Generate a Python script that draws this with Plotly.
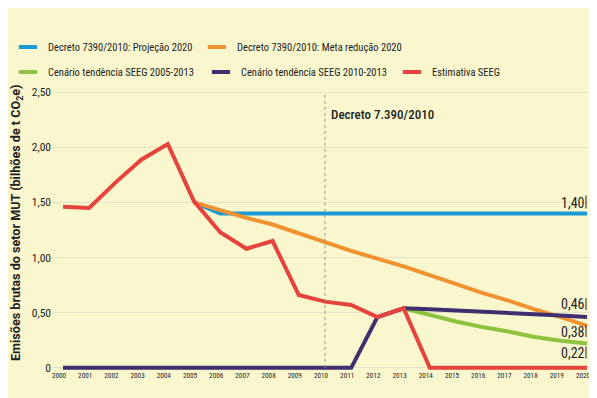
import plotly.graph_objects as go

years = list(range(2000, 2021))

proj_years = list(range(2005, 2021))
proj_2020 = [1.50] + [1.40] * 15

meta_years = list(range(2005, 2021))
meta_2020 = [1.50, 1.43, 1.36, 1.30, 1.22, 1.14, 1.06, 0.99, 0.92, 0.84,
             0.76, 0.68, 0.61, 0.53, 0.46, 0.38]

tend0513_years = list(range(2013, 2021))
tend_0513 = [0.54, 0.48, 0.42, 0.37, 0.33, 0.28, 0.245, 0.22]

tend1013_years = list(range(2000, 2021))
tend_1013 = [0] * 12 + [0.46, 0.54, 0.53, 0.52, 0.51, 0.50, 0.49, 0.475, 0.46]

seeg_years = list(range(2000, 2021))
seeg = [1.46, 1.45, 1.68, 1.89, 2.03, 1.51, 1.23, 1.08, 1.15, 0.66, 0.60,
        0.57, 0.46, 0.54, 0, 0, 0, 0, 0, 0, 0]

names = ["Decreto 7390/2010: Projeção 2020", "Decreto 7390/2010: Meta redução 2020",
         "Cenário tendência SEEG 2005-2013", "Cenário tendência SEEG 2010-2013",
         "Estimativa SEEG"]
colors = ["#1B9AD6", "#F0922F", "#8CC43F", "#3E2F6E", "#E5433B"]

y_ticks = [0, 0.5, 1.0, 1.5, 2.0, 2.5]
y_ticktext = ["0", "0,50", "1,00", "1,50", "2,00", "2,50"]

y_title = "<b>Emisões brutas do setor MUT (bilhões de t CO<sub>2</sub>e)</b>"

decree_year = 2010
decree_label = "Decreto 7.390/2010"

end_values = [1.40, 0.46, 0.38, 0.22]

COND = "Roboto Condensed, Liberation Sans Narrow, sans-serif"
TXT = "#222222"
BG = "#FAF7CF"

# the page body adds an 8px offset; size the figure so it fills the window
OFF = 8
W, H = 597 - OFF, 398 - OFF

series = [
    (proj_years, proj_2020),
    (meta_years, meta_2020),
    (tend0513_years, tend_0513),
    (tend1013_years, tend_1013),
    (seeg_years, seeg),
]

fig = go.Figure()
for (xs, ys), name, c in zip(series, names, colors):
    fig.add_trace(go.Scatter(x=xs, y=ys, mode="lines", name=name,
                             line=dict(color=c, width=4), showlegend=False))

# legend layout: (left px of text, row center px) in window pixels
legend_pos = [(31, 46), (225, 46), (31, 71), (229, 71), (420, 71)]
legend_layout = {}
for i, (name, c) in enumerate(zip(names, colors)):
    key = "legend" if i == 0 else f"legend{i + 1}"
    fig.add_trace(go.Scatter(
        x=[None], y=[None], mode="markers", name=name, showlegend=True,
        marker=dict(symbol="line-ew-open", size=13, color=c,
                    line=dict(width=4, color=c)),
        legend=key))
    tx, ty = legend_pos[i]
    legend_layout[key] = dict(
        orientation="h", xref="container", yref="container",
        x=(tx - OFF - 28) / W, y=1 - (ty - OFF + 1) / H, xanchor="left", yanchor="middle",
        itemwidth=30, font=dict(family=COND, size=10.5, color=TXT),
        bgcolor="rgba(0,0,0,0)")

# y axis title (as rotated annotation for exact placement)
fig.add_annotation(text=y_title, textangle=-90, xref="paper", yref="paper",
                   x=0, y=0.5, xanchor="center", yanchor="middle",
                   xshift=-36, yshift=7, showarrow=False,
                   font=dict(family="Roboto, sans-serif", size=12.6, color=TXT))

# vertical decree line
fig.add_shape(type="line", x0=decree_year, x1=decree_year, y0=0, y1=2.5,
              xref="x", yref="y", line=dict(color="#8f8f86", width=1, dash="dot"))
fig.add_annotation(x=decree_year, y=2.30, text=decree_label, showarrow=False,
                   xanchor="left", xshift=4,
                   font=dict(family=COND, size=13, color=TXT, weight=500))

# end value labels
end_style = [dict(ys=10, b0=5, b1=18), dict(ys=13, b0=7, b1=19),
             dict(ys=-6, b0=-11, b1=1), dict(ys=-9, b0=-15, b1=-3)]
for v, st in zip(end_values, end_style):
    fig.add_annotation(x=years[-1], y=v, text=f"{v:.2f}".replace(".", ","),
                       showarrow=False, xanchor="right", yanchor="middle",
                       xshift=0, yshift=st["ys"],
                       font=dict(family=COND, size=14, color=TXT))
    fig.add_shape(type="line", xref="x", yref="y", xsizemode="pixel", ysizemode="pixel",
                  xanchor=years[-1], yanchor=v, x0=-1, x1=-1, y0=st["b0"], y1=st["b1"],
                  line=dict(color=TXT, width=1))

fig.update_layout(
    width=W, height=H,
    margin=dict(l=52 - OFF, r=7, t=90 - OFF, b=28, autoexpand=False),
    paper_bgcolor=BG, plot_bgcolor=BG,
    showlegend=True,
    xaxis=dict(range=[1999.58, 2020.115], tickvals=years, ticktext=[str(y) for y in years],
               showgrid=False, zeroline=False, showline=False, ticklabelshift=-4,
               tickfont=dict(family=COND, size=7.2, color=TXT), ticklen=0),
    yaxis=dict(range=[-0.02, 2.52], tickvals=y_ticks, ticktext=y_ticktext,
               showgrid=True, gridcolor="#E4E1C6", gridwidth=1, zeroline=False,
               tickfont=dict(family=COND, size=11.5, color=TXT)),
    **legend_layout,
)

fig.write_html("out.html")
